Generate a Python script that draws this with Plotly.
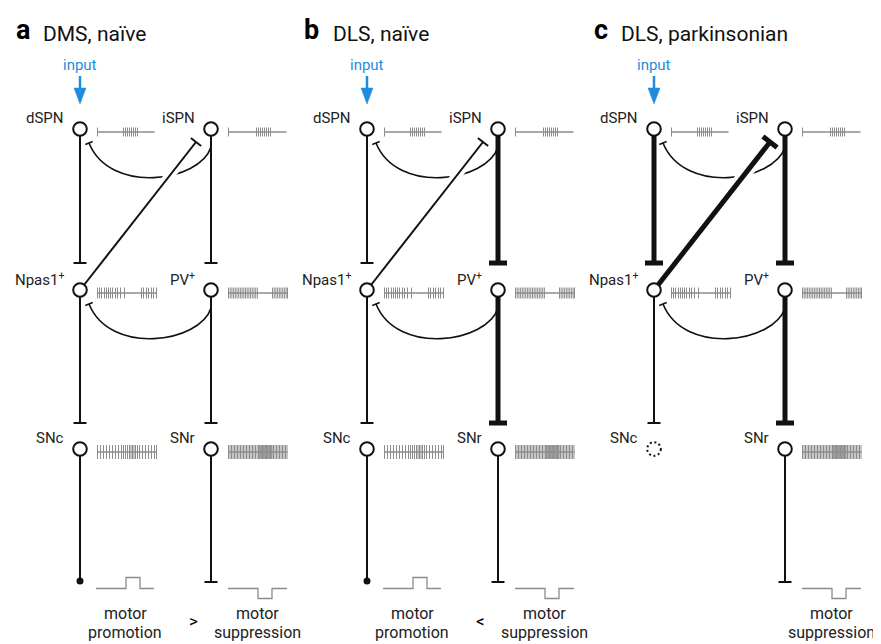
import plotly.graph_objects as go

W, H = 881, 644
PAGE_MARGIN = 8  # default body margin of the html page

# panel text
PANEL_LETTERS = ["a", "b", "c"]
PANEL_TITLES = ["DMS, naïve", "DLS, naïve", "DLS, parkinsonian"]
LETTER_X = [14, 302, 592]
TITLE_X = [41, 331, 619]
COMPARATORS = [">", "<", ""]

# layout of the circuit (pixels)
PANEL_X = [0, 287, 574]
COL_X = [80, 211]
ROW_Y = [129, 290, 449]
OUT_Y = 581

NODE_NAMES = [["dSPN", "iSPN"],
              ["Npas1<sup>+</sup>", "PV<sup>+</sup>"],
              ["SNc", "SNr"]]

# connection strength per panel: 0 = absent, 1 = normal, 2 = strengthened
DSPN_NPAS1 = [1, 1, 2]
ISPN_PV = [1, 2, 2]
NPAS1_SNC = [1, 1, 1]
PV_SNR = [1, 2, 2]
NPAS1_ISPN = [1, 1, 2]
SNC_OUT = [1, 1, 0]
SNR_OUT = [1, 1, 1]
SNC_ALIVE = [True, True, False]

# spike trains: spike offsets (px) from the start of each trace
SPK_DSPN = [0, 26, 28, 30, 32, 34, 36, 38, 40]
SPK_ISPN = [0, 28, 30, 32, 34, 36, 38, 40, 42]
SPK_NPAS1 = [0, 2, 4, 7, 9, 11, 13, 15, 18, 20, 23, 27,
             44, 46, 49, 51, 54, 56, 59]
SPK_PV = [0, 1.7, 3.4, 5.1, 6.8, 8.5, 10.2, 11.9, 13.6, 15.3, 17, 18.7,
          20.4, 22.1, 23.8, 25.5, 27.2, 28.9,
          44, 45.7, 47.4, 49.1, 50.8, 52.5, 54.2, 55.9, 57.6, 59]
SPK_SNC = [0, 3, 6, 9, 12, 15, 18, 21, 24, 26, 28, 30, 32, 33.5, 35,
           36.5, 38, 40, 42, 45, 48, 51, 54, 57, 59]
SPK_SNR = [0, 1.5, 3, 4.5, 6, 7.5, 9, 10.5, 12, 13.5, 15, 16.5, 18, 19.5,
           21, 22.5, 24, 25.5, 27, 28.5, 30, 30.8, 31.6, 32.4, 33.2, 34,
           34.8, 35.6, 36.4, 37.2, 38, 38.8, 39.6, 40.4, 41.2, 42, 42.8,
           43.6, 45, 46.5, 48, 49.5, 51, 52.5, 54, 55.5, 57, 58.5]
SPIKES = [[SPK_DSPN, SPK_ISPN], [SPK_NPAS1, SPK_PV], [SPK_SNC, SPK_SNR]]
SPIKE_H = [9, 11, 14]
TRAIN_LEN = [[57, 58], [59, 59], [59, 59]]

# motor output waveforms
PROMO_X = [0, 30, 30, 44, 44, 58]
PROMO_LVL = [0, 0, 1, 1, 0, 0]
SUPP_X = [0, 30, 30, 44, 44, 59]
SUPP_LVL = [0, 0, -1, -1, 0, 0]

INK = "#111111"
GREY = "#8c8c8c"
BLUE = "#1f8ddc"
FONT = "Roboto"
LW = {1: 2, 2: 5}
BAR = {1: 13, 2: 18}

fig = go.Figure()
shapes = []
annotations = []


def line(x0, y0, x1, y1, w, color=INK):
    shapes.append(dict(type="line", x0=x0, y0=y0, x1=x1, y1=y1,
                       xref="x", yref="y", line=dict(color=color, width=w)))


def text(x, y, s, size=15, color="#222222", xanchor="center", bold=False):
    annotations.append(dict(x=x, y=y, xref="x", yref="y", text=s,
                            showarrow=False, xanchor=xanchor, yanchor="middle",
                            font=dict(family=FONT, size=size, color=color,
                                      weight="bold" if bold else "normal")))


def inhib_vertical(x, y0, y1, s):
    # line ending in a T bar
    line(x, y0, x, y1, LW[s])
    line(x - BAR[s] / 2, y1, x + BAR[s] / 2, y1, LW[s] if s == 2 else 2)


def arc(px, y):
    # curved inhibitory feedback from right column to left node
    x0, y0 = px + COL_X[1], y + 18
    c1 = (px + 200, y + 53)
    c2 = (px + 110, y + 66)
    x3, y3 = px + 89, y + 14
    shapes.append(dict(type="path", xref="x", yref="y",
                       path=f"M {x0},{y0} C {c1[0]},{c1[1]} {c2[0]},{c2[1]} {x3},{y3}",
                       line=dict(color=INK, width=1.6)))
    tx, ty = x3 - c2[0], y3 - c2[1]
    n = (tx ** 2 + ty ** 2) ** 0.5
    nx, ny = -ty / n, tx / n
    line(x3 - 4 * nx, y3 - 4 * ny, x3 + 4 * nx, y3 + 4 * ny, 1.6)


spike_x, spike_y, base_x, base_y = [], [], [], []

for p in range(3):
    px = PANEL_X[p]
    xl, xr = px + COL_X[0], px + COL_X[1]

    text(LETTER_X[p], 30, PANEL_LETTERS[p], size=27, color="#000", xanchor="left", bold=True)
    text(TITLE_X[p], 34, PANEL_TITLES[p], size=21, color="#111", xanchor="left")

    # input arrow
    text(xl, 65, "input", size=15, color=BLUE)
    line(xl, 76, xl, 90, 2.5, BLUE)
    shapes.append(dict(type="path", xref="x", yref="y",
                       path=f"M {xl-6},88 L {xl+6},88 L {xl},104 Z",
                       fillcolor=BLUE, line=dict(color=BLUE, width=0.5)))

    # feedback arcs (drawn first, diagonal crosses over them)
    arc(px, ROW_Y[0])
    arc(px, ROW_Y[1])

    # vertical projections
    inhib_vertical(xl, ROW_Y[0] + 7, ROW_Y[1] - 27, DSPN_NPAS1[p])
    inhib_vertical(xr, ROW_Y[0] + 7, ROW_Y[1] - 27, ISPN_PV[p])
    inhib_vertical(xl, ROW_Y[1] + 7, ROW_Y[2] - 26, NPAS1_SNC[p])
    inhib_vertical(xr, ROW_Y[1] + 7, ROW_Y[2] - 26, PV_SNR[p])

    # outputs
    if SNC_OUT[p]:
        line(xl, ROW_Y[2] + 7, xl, OUT_Y - 1, LW[SNC_OUT[p]])
        shapes.append(dict(type="circle", xref="x", yref="y",
                           x0=xl - 3.5, x1=xl + 3.5, y0=OUT_Y - 3.5, y1=OUT_Y + 3.5,
                           fillcolor=INK, line=dict(color=INK, width=0)))
    if SNR_OUT[p]:
        inhib_vertical(xr, ROW_Y[2] + 7, OUT_Y + 1, SNR_OUT[p])

    # diagonal Npas1 -> iSPN
    s = NPAS1_ISPN[p]
    sx, sy = xl + 4.4, ROW_Y[1] - 5.5
    ex, ey = px + 196, ROW_Y[0] + 13
    dx, dy = ex - sx, ey - sy
    L = (dx ** 2 + dy ** 2) ** 0.5
    ux, uy = dx / L, dy / L
    line(sx + 0.70 * dx, sy + 0.70 * dy, sx + 0.86 * dx, sy + 0.86 * dy,
         LW[s] + 8, "white")
    line(sx, sy, ex, ey, LW[s])
    hb = BAR[s] / 2
    line(ex - hb * uy, ey + hb * ux, ex + hb * uy, ey - hb * ux, LW[s] if s == 2 else 2)

    # nodes, labels, spike trains
    for r in range(3):
        for c in range(2):
            cx, cy = px + COL_X[c], ROW_Y[r]
            alive = not (r == 2 and c == 0 and not SNC_ALIVE[p])
            shapes.append(dict(type="circle", xref="x", yref="y",
                               x0=cx - 6.8, x1=cx + 6.8, y0=cy - 6.8, y1=cy + 6.8,
                               fillcolor="white",
                               line=dict(color=INK, width=2,
                                         dash="solid" if alive else "2px,2.6px")))
            text(cx - 14, cy - 11, NODE_NAMES[r][c], size=15, xanchor="right")
            if not alive:
                continue
            x0 = cx + 17.5
            yc = cy + 3
            h = SPIKE_H[r]
            spk = SPIKES[r][c]
            for t in spk:
                spike_x += [x0 + t, x0 + t, None]
                spike_y += [yc - h / 2, yc + h / 2, None]
            base_x += [x0 + spk[0], x0 + TRAIN_LEN[r][c], None]
            base_y += [yc, yc, None]

    # motor output waveforms and text
    if SNC_OUT[p]:
        base_x += [xl + 16 + v for v in PROMO_X] + [None]
        base_y += [588.5 - 11 * v for v in PROMO_LVL] + [None]
        text(xl + 45, 613, "motor", size=16)
        text(xl + 45, 632, "promotion", size=16)
    base_x += [xr + 17 + v for v in SUPP_X] + [None]
    base_y += [588.5 - 10 * v for v in SUPP_LVL] + [None]
    text(xr + 46, 613, "motor", size=16)
    text(xr + 46, 632, "suppression", size=16)
    if COMPARATORS[p]:
        text(px + 193, 621, COMPARATORS[p], size=17, color="#000")

fig.add_trace(go.Scatter(x=base_x, y=base_y, mode="lines",
                         line=dict(color=GREY, width=1.3), hoverinfo="skip"))
fig.add_trace(go.Scatter(x=spike_x, y=spike_y, mode="lines",
                         line=dict(color=GREY, width=1), hoverinfo="skip"))

# the page has an 8px body margin, so the plot starts at (8, 8) in the window;
# offset the axis ranges so data coordinates equal window pixels
fig.update_layout(
    width=W - PAGE_MARGIN, height=H - PAGE_MARGIN,
    margin=dict(l=0, r=0, t=0, b=0),
    paper_bgcolor="white", plot_bgcolor="white",
    showlegend=False,
    xaxis=dict(range=[PAGE_MARGIN, W], visible=False, fixedrange=True),
    yaxis=dict(range=[H, PAGE_MARGIN], visible=False, fixedrange=True),
    shapes=shapes, annotations=annotations,
)

fig.write_html("out.html")
